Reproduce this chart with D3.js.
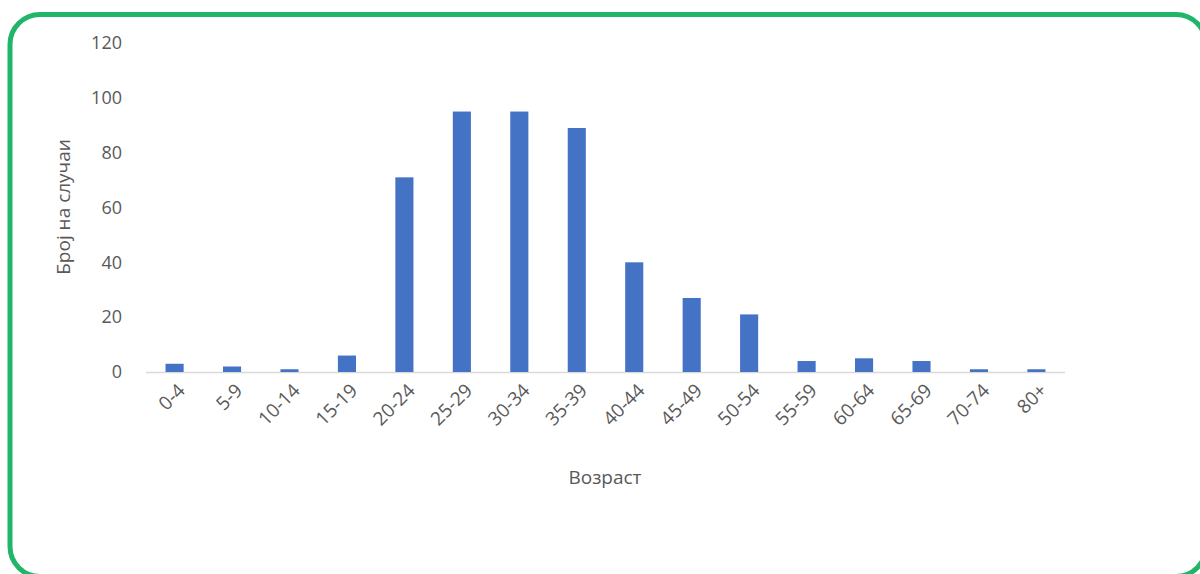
<!DOCTYPE html>
<html lang="mk">
<head>
  <meta charset="UTF-8">
  <title>Број на случаи по возраст</title>
  <script src="https://d3js.org/d3.v7.min.js"></script>
  <style>
    body { margin: 0; background: #fff; font-family: "Open Sans", sans-serif; }
    .tick text { fill: #595959; font-size: 18px; font-family: "Open Sans", sans-serif; }
    .xlab text { fill: #595959; font-size: 19px; }
    .title { fill: #595959; font-size: 19px; }
  </style>
</head>
<body>
  <svg width="1200" height="574"></svg>
  <script>
    const ageGroups = ["0-4", "5-9", "10-14", "15-19", "20-24", "25-29", "30-34", "35-39",
                       "40-44", "45-49", "50-54", "55-59", "60-64", "65-69", "70-74", "80+"];
    const cases = [3, 2, 1, 6, 71, 95, 95, 89, 40, 27, 21, 4, 5, 4, 1, 1];
    const yTicks = [0, 20, 40, 60, 80, 100, 120];

    const svg = d3.select("svg");

    // green frame, slightly past the right and bottom edge
    svg.append("rect")
      .attr("x", 10).attr("y", 14.5)
      .attr("width", 1196).attr("height", 562)
      .attr("rx", 30)
      .attr("fill", "none")
      .attr("stroke", "#21b56a")
      .attr("stroke-width", 5);

    const x = d3.scaleBand()
      .domain(ageGroups)
      .range([146, 1065])
      .paddingInner(0.685)
      .paddingOuter(0.34);

    const y = d3.scaleLinear()
      .domain([0, 120])
      .range([372, 43]);

    // y axis (labels only)
    const yAxis = svg.append("g")
      .attr("transform", "translate(128,0)")
      .call(d3.axisLeft(y).tickValues(yTicks).tickSize(0).tickPadding(6));
    yAxis.select(".domain").remove();

    // baseline
    svg.append("line")
      .attr("x1", 146).attr("x2", 1065)
      .attr("y1", y(0) + 0.5).attr("y2", y(0) + 0.5)
      .attr("stroke", "#d9d9d9")
      .attr("stroke-width", 1.5);

    svg.append("g")
      .selectAll("rect")
      .data(cases)
      .join("rect")
      .attr("x", (d, i) => x(ageGroups[i]))
      .attr("y", d => y(d))
      .attr("width", x.bandwidth())
      .attr("height", d => y(0) - y(d))
      .attr("fill", "#4472c4");

    // rotated category labels
    svg.append("g")
      .attr("class", "xlab")
      .selectAll("text")
      .data(ageGroups)
      .join("text")
      .attr("transform", d => `translate(${x(d) + x.bandwidth() / 2 + 7},${y(0) + 15}) rotate(-45)`)
      .attr("text-anchor", "end")
      .attr("dy", "0.35em")
      .text(d => d);

    svg.append("text")
      .attr("class", "title")
      .attr("x", 605).attr("y", 484)
      .attr("text-anchor", "middle")
      .text("Возраст");

    svg.append("text")
      .attr("class", "title")
      .attr("transform", "translate(70,207) rotate(-90)")
      .attr("text-anchor", "middle")
      .text("Број на случаи");
  </script>
</body>
</html>
